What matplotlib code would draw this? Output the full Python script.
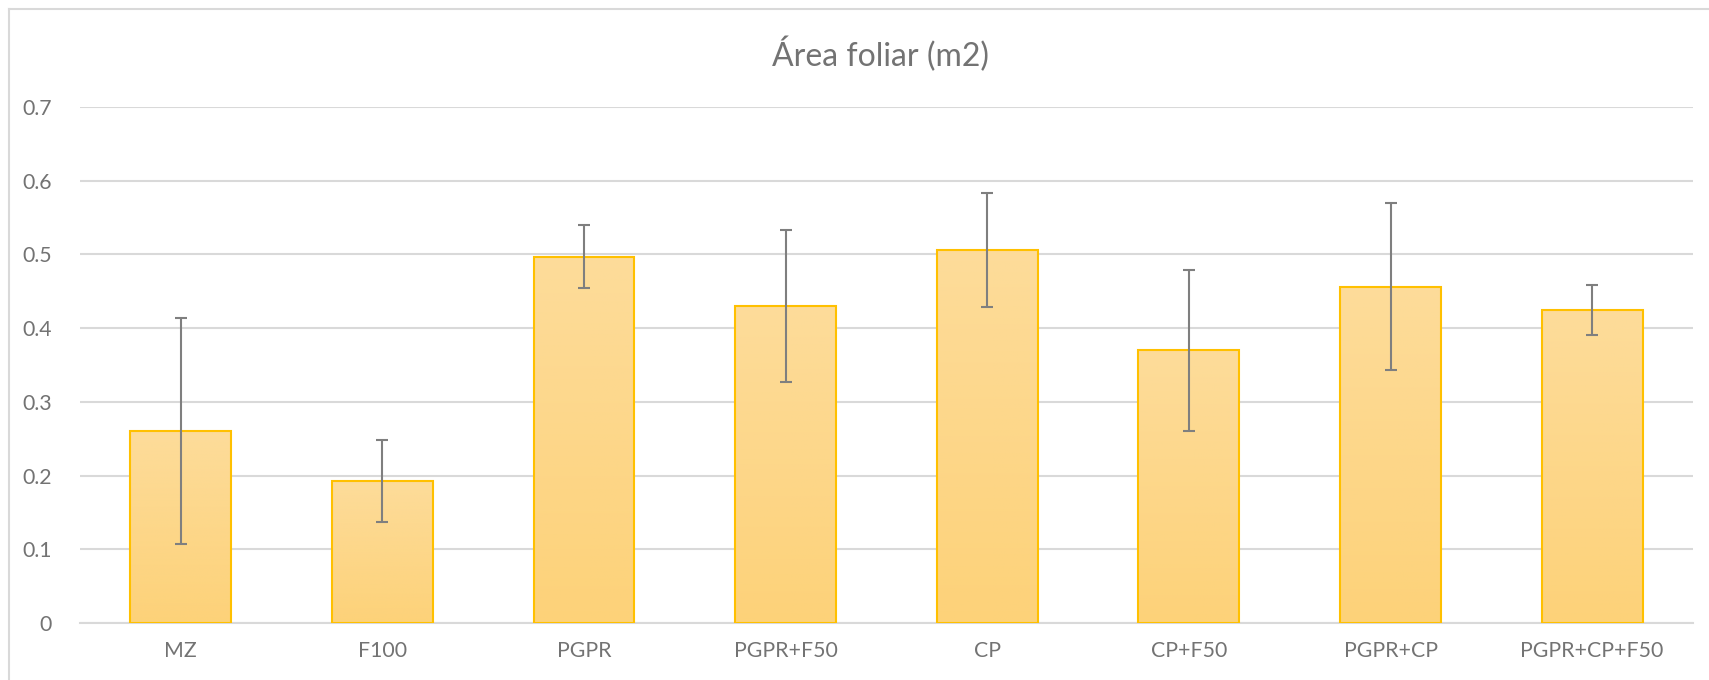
import matplotlib
matplotlib.use('Agg')
import matplotlib.pyplot as plt
from matplotlib.lines import Line2D
from matplotlib.colors import LinearSegmentedColormap
import numpy as np

# data
categories = ['MZ', 'F100', 'PGPR', 'PGPR+F50', 'CP', 'CP+F50', 'PGPR+CP', 'PGPR+CP+F50']
area = [0.261, 0.193, 0.497, 0.430, 0.506, 0.370, 0.456, 0.425]
err = [0.153, 0.056, 0.043, 0.103, 0.077, 0.109, 0.113, 0.034]
yticks = [0, 0.1, 0.2, 0.3, 0.4, 0.5, 0.6, 0.7]

plt.rcParams['font.family'] = ['Lato', 'DejaVu Sans']

fig = plt.figure(figsize=(17.09, 6.80), dpi=100)
ax = fig.add_axes([0.0468, 0.0834, 0.9438, 0.7596])

x = np.arange(len(categories))
bars = ax.bar(x, area, width=0.5, color='#FDD98C', edgecolor='#FFC000',
              linewidth=1.5, zorder=2)

# subtle vertical gradient inside each bar
grad = np.linspace(0, 1, 256).reshape(-1, 1)
cmap = LinearSegmentedColormap.from_list('bar', ['#FDD279', '#FDDC9A'])
for b in bars:
    x0, w, h = b.get_x(), b.get_width(), b.get_height()
    im = ax.imshow(grad, extent=[x0, x0 + w, 0, h], origin='lower',
                   cmap=cmap, aspect='auto', zorder=2)
    im.set_clip_path(b)
    b.set_facecolor('none')
    b.set_zorder(3)

ax.errorbar(x, area, yerr=err, fmt='none', ecolor='#7F7F7F', elinewidth=1.5,
            capsize=4.5, capthick=1.5, zorder=4)

ax.set_xlim(-0.5, len(categories) - 0.5)
ax.set_ylim(0, 0.7)
ax.set_yticks(yticks)
ax.set_yticklabels(['0' if t == 0 else f'{t:.1f}' for t in yticks])
ax.set_xticks(x)
ax.set_xticklabels(categories)
ax.tick_params(axis='both', length=0, labelsize=15.3, colors='#737373')
ax.tick_params(axis='y', pad=20)
ax.tick_params(axis='x', pad=13)
ax.grid(axis='y', color='#D9D9D9', linewidth=1.5, zorder=0)
ax.set_axisbelow(True)
for s in ['top', 'right', 'left']:
    ax.spines[s].set_visible(False)
ax.spines['bottom'].set_color('#D9D9D9')
ax.spines['bottom'].set_linewidth(1.5)

fig.text(0.515, 0.920, 'Área foliar (m2)', ha='center', va='center',
         fontsize=23, color='#737373')

# chart frame (cut off at right and bottom)
fig.add_artist(Line2D([9 / 1709, 9 / 1709], [0, 1 - 9 / 680],
                      transform=fig.transFigure, color='#D9D9D9', linewidth=1.5))
fig.add_artist(Line2D([9 / 1709, 1], [1 - 9 / 680, 1 - 9 / 680],
                      transform=fig.transFigure, color='#D9D9D9', linewidth=1.5))

plt.savefig('out.png', dpi=100, facecolor='white')
plt.close()
